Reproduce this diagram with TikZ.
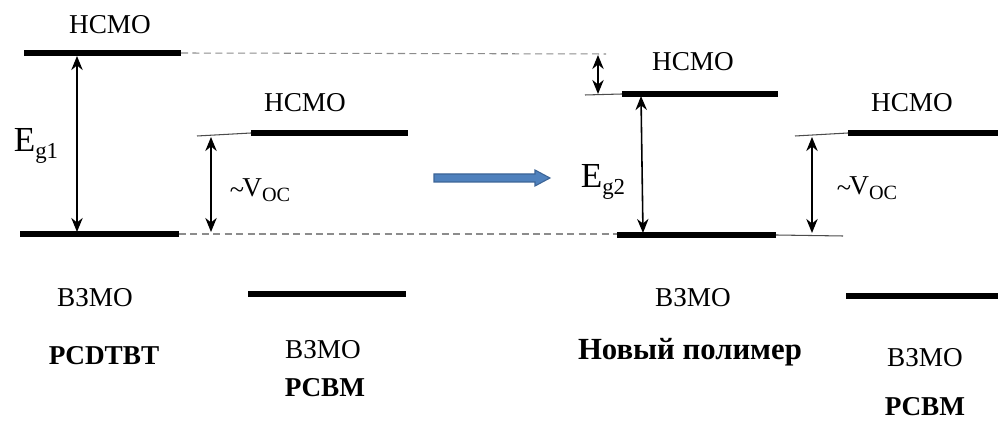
\documentclass[tikz,border=0pt]{standalone}
\usepackage{fontspec}
\setmainfont{Liberation Serif}
\usetikzlibrary{arrows.meta}
\newcommand\mysub[2]{\raisebox{-0.4ex}{\fontsize{#2}{#2}\selectfont #1}}
\begin{document}
\begin{tikzpicture}[x=0.02cm,y=-0.02cm,
  lvl/.style={line width=3.2pt},
  guide/.style={draw=black!45,line width=0.6pt,dash pattern=on 4pt off 2.5pt},
  thinln/.style={draw=black!70,line width=0.6pt},
  dbl/.style={line width=0.9pt,{Stealth[length=8pt,width=6.5pt]}-{Stealth[length=8pt,width=6.5pt]}},
  lbl/.style={inner sep=0pt,font=\rmfamily\fontsize{15.5}{18}\selectfont},
  blbl/.style={inner sep=0pt,font=\rmfamily\fontsize{15.5}{18}\selectfont\bfseries}]
\useasboundingbox (0,0) rectangle (998,421);
% levels
\coordinate (a1) at (24,53); \coordinate (a2) at (181,53);
\coordinate (b1) at (20,234); \coordinate (b2) at (179,234);
\coordinate (c1) at (251,133); \coordinate (c2) at (408,133);
\coordinate (d1) at (248,294); \coordinate (d2) at (406,294);
\coordinate (e1) at (622,94); \coordinate (e2) at (778,94);
\coordinate (f1) at (617,235); \coordinate (f2) at (776,235);
\coordinate (g1) at (848,133); \coordinate (g2) at (998,133);
\coordinate (h1) at (846,296); \coordinate (h2) at (998,296);
\foreach \p/\q in {a1/a2,b1/b2,c1/c2,d1/d2,e1/e2,f1/f2,g1/g2,h1/h2}
  \draw[lvl] (\p) -- (\q);
% guide lines
\coordinate (ga) at (606,54);
\coordinate (gb) at (617,234);
\draw[guide] (a2) -- (ga);
\draw[guide] (b2) -- (gb);
\coordinate (tc) at (197,136);
\draw[thinln] (tc) -- (c1);
\coordinate (te) at (585,95);
\draw[thinln] (te) -- (e1);
\coordinate (tf) at (843,236);
\draw[thinln] (f2) -- (tf);
\coordinate (tg) at (795,136);
\draw[thinln] (tg) -- (g1);
% double arrows
\coordinate (eg1t) at (77,56); \coordinate (eg1b) at (77,232);
\draw[dbl] (eg1t) -- (eg1b);
\coordinate (v1t) at (211,137); \coordinate (v1b) at (211,232);
\draw[dbl] (v1t) -- (v1b);
\coordinate (st) at (598,55); \coordinate (sb) at (598,94);
\draw[dbl] (st) -- (sb);
\coordinate (eg2t) at (641,96); \coordinate (eg2b) at (643,233);
\draw[dbl] (eg2t) -- (eg2b);
\coordinate (v2t) at (812,137); \coordinate (v2b) at (812,233);
\draw[dbl] (v2t) -- (v2b);
% blue arrow
\draw[draw={rgb,255:red,60;green,100;blue,150},fill={rgb,255:red,79;green,129;blue,189},line width=0.6pt]
  (434,174) -- (535,174) -- (535,170) -- (550,178) -- (535,186) -- (535,182) -- (434,182) -- cycle;
% labels
\node[lbl] (l1) at (110,25) {НСМО};
\node[lbl] (l2) at (305,103) {НСМО};
\node[lbl] (l3) at (693,62) {НСМО};
\node[lbl] (l4) at (912,103) {НСМО};
\node[lbl,font=\rmfamily\fontsize{20}{20}\selectfont] (eg1) at (36,146) {E\mysub{g1}{13}};
\node[lbl,font=\rmfamily\fontsize{20}{20}\selectfont] (eg2) at (603,182) {E\mysub{g2}{13}};
\node[lbl] (voc1) at (260,190) {\raisebox{-0.2ex}{\fontsize{15}{15}\selectfont\textasciitilde}\kern-1pt V\mysub{OC}{11.5}};
\node[lbl] (voc2) at (867,188) {\raisebox{-0.2ex}{\fontsize{15}{15}\selectfont\textasciitilde}\kern-1pt V\mysub{OC}{11.5}};
\node[lbl] (h1l) at (95,298) {ВЗМО};
\node[blbl] (p1) at (104,356) {PCDTBT};
\node[lbl] (h2l) at (323,350) {ВЗМО};
\node[blbl] (p2) at (325,388) {PCBM};
\node[lbl] (h3l) at (693,298) {ВЗМО};
\node[blbl,font=\rmfamily\fontsize{17.5}{18}\selectfont\bfseries] (p3) at (690,352) {Новый полимер};
\node[lbl] (h4l) at (925,358) {ВЗМО};
\node[blbl] (p4) at (925,407) {PCBM};
\end{tikzpicture}
\end{document}
